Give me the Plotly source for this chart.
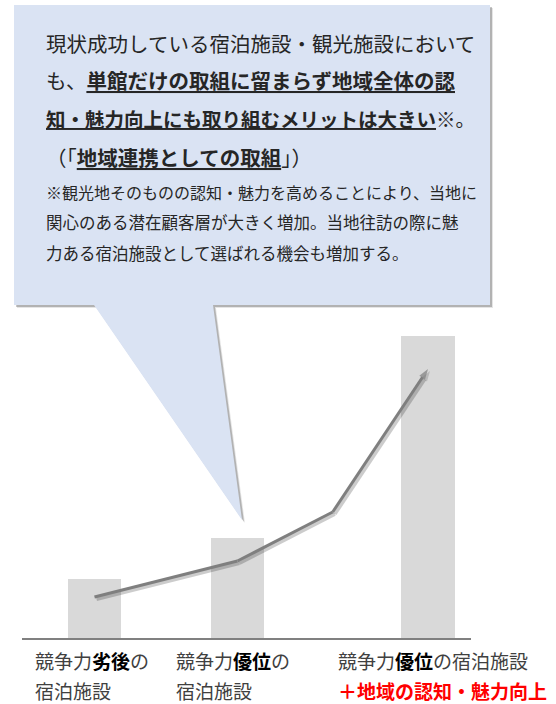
import plotly.graph_objects as go

# --- data -------------------------------------------------------------------
# category positions on a numeric x axis and the bar heights
cat_pos = [1, 4, 8]
bar_values = [5.9, 10.0, 30.2]

# rising trend line drawn across the bars (last point carries the arrow head)
trend_x = [1, 4, 6, 8]
trend_y = [4.1, 7.7, 12.6, 26.9]

# two-row category labels under the axis
label_row1 = [
    "競争力<span style='color:#000000'><b>劣後</b></span>の",
    "競争力<span style='color:#000000'><b>優位</b></span>の",
    "競争力<span style='color:#000000'><b>優位</b></span>の宿泊施設",
]
label_row2 = ["宿泊施設", "宿泊施設", "<b>＋地域の認知・魅力向上</b>"]
label_row2_colors = ["#404040", "#404040", "#FF0000"]

# text inside the speech bubble
callout_text = [
    "現状成功している宿泊施設・観光施設において",
    "も、<b><u>単館だけの取組に留まらず地域全体の認</u></b>",
    "<b><u>知・魅力向上にも取り組むメリットは大きい</u></b>※。",
    "（「<b><u>地域連携としての取組</u></b>」）",
    "※観光地そのものの認知・魅力を高めることにより、当地に",
    "関心のある潜在顧客層が大きく増加。当地往訪の際に魅",
    "力ある宿泊施設として選ばれる機会も増加する。",
]

# --- layout constants ---------------------------------------------------------
FONT = "Noto Sans CJK JP"
W_FIG, H_FIG = 556, 704
L, R, T, B = 22, 85, 318, 66
PLOT_W = W_FIG - L - R
PLOT_H = H_FIG - T - B
X_RANGE = [-0.522, 8.903]
Y_RANGE = [0, 32]
X_UNIT = PLOT_W / (X_RANGE[1] - X_RANGE[0])
Y_UNIT = PLOT_H / (Y_RANGE[1] - Y_RANGE[0])
SHADOW = 2  # px offset of the line's drop shadow

BOTTOM_PX = H_FIG - B


def paper(px, py):
    """Convert page pixel coordinates to paper coordinates."""
    return (px - L) / PLOT_W, (BOTTOM_PX - py) / PLOT_H


def path_from(points):
    parts = []
    for i, (px, py) in enumerate(points):
        x, y = paper(px, py)
        parts.append(("M" if i == 0 else "L") + f"{x:.5f},{y:.5f}")
    return " ".join(parts) + " Z"


# speech bubble outline (page px)
bubble = [(14, 5), (490, 5), (490, 305), (213, 305), (242, 520), (94, 305), (14, 305)]
bubble_shadow1 = [(px + 3, py + 3) for px, py in bubble]
bubble_shadow2 = [(px + 2, py + 2) for px, py in bubble]

callout_size = [20.5, 20.5, 19.5, 20.5, 16, 16.5, 16.5]
callout_y = [43, 80, 118, 157, 192, 222, 253]
callout_x = 44

label_shift = [-62, -63, -92]
label_row_y = [660, 690]

# --- figure -------------------------------------------------------------------
fig = go.Figure()

fig.add_trace(go.Bar(
    x=cat_pos, y=bar_values, width=1.13,
    marker=dict(color="#D9D9D9", line=dict(width=0)),
    hoverinfo="skip", xaxis="x", yaxis="y",
))

arrow_sizes = [0] * (len(trend_x) - 1) + [11]
arrow_symbols = ["circle"] * (len(trend_x) - 1) + ["arrow"]

# soft shadow of the trend line on offset axes
fig.add_trace(go.Scatter(
    x=trend_x, y=trend_y, mode="lines+markers",
    line=dict(color="rgba(0,0,0,0.20)", width=4),
    marker=dict(size=arrow_sizes, symbol=arrow_symbols, angleref="previous",
                color="rgba(0,0,0,0.20)", line=dict(width=0)),
    hoverinfo="skip", xaxis="x2", yaxis="y2",
))

fig.add_trace(go.Scatter(
    x=trend_x, y=trend_y, mode="lines+markers",
    line=dict(color="#7F7F7F", width=3),
    marker=dict(size=arrow_sizes, symbol=arrow_symbols, angleref="previous",
                color="#7F7F7F", line=dict(width=0)),
    hoverinfo="skip", xaxis="x3", yaxis="y3",
))

hidden = dict(showgrid=False, zeroline=False, showticklabels=False, ticks="",
              showline=False, fixedrange=True)

shapes = [
    dict(type="path", xref="paper", yref="paper", path=path_from(bubble_shadow1),
         fillcolor="rgba(0,0,0,0.10)", line=dict(width=0), layer="above"),
    dict(type="path", xref="paper", yref="paper", path=path_from(bubble_shadow2),
         fillcolor="rgba(0,0,0,0.22)", line=dict(width=0), layer="above"),
    dict(type="path", xref="paper", yref="paper", path=path_from(bubble),
         fillcolor="#DAE3F3", line=dict(width=0), layer="above"),
]

annotations = []
for text, size, py in zip(callout_text, callout_size, callout_y):
    x, y = paper(callout_x, py)
    annotations.append(dict(
        text=text, x=x, y=y, xref="paper", yref="paper",
        xanchor="left", yanchor="middle", showarrow=False, align="left",
        font=dict(family=FONT, size=size, color="#262626"),
    ))

for pos, shift, r1, r2, c2 in zip(cat_pos, label_shift, label_row1, label_row2,
                                  label_row2_colors):
    for text, py, color in ((r1, label_row_y[0], "#404040"), (r2, label_row_y[1], c2)):
        annotations.append(dict(
            text=text, x=pos, xref="x", y=paper(0, py)[1], yref="paper",
            xanchor="left", yanchor="middle", xshift=shift, showarrow=False,
            align="left", font=dict(family=FONT, size=19, color=color),
        ))

fig.update_layout(
    width=W_FIG, height=H_FIG, autosize=False,
    margin=dict(l=L, r=R, t=T, b=B, pad=0),
    paper_bgcolor="white", plot_bgcolor="rgba(0,0,0,0)",
    showlegend=False, bargap=0,
    xaxis=dict(range=X_RANGE, domain=[0, 1], anchor="y", showline=True,
               linecolor="#808080", linewidth=2, showgrid=False, zeroline=False,
               showticklabels=False, ticks="", fixedrange=True),
    yaxis=dict(range=Y_RANGE, domain=[0, 1], anchor="x", **hidden),
    xaxis2=dict(range=[X_RANGE[0], X_RANGE[1] - SHADOW / X_UNIT],
                domain=[SHADOW / PLOT_W, 1], anchor="y2", **hidden),
    yaxis2=dict(range=[Y_RANGE[0] + SHADOW / Y_UNIT, Y_RANGE[1]],
                domain=[0, 1 - SHADOW / PLOT_H], anchor="x2", **hidden),
    xaxis3=dict(range=X_RANGE, domain=[0, 1], anchor="y3", **hidden),
    yaxis3=dict(range=Y_RANGE, domain=[0, 1], anchor="x3", **hidden),
    shapes=shapes,
    annotations=annotations,
)

fig.write_html("out.html")
